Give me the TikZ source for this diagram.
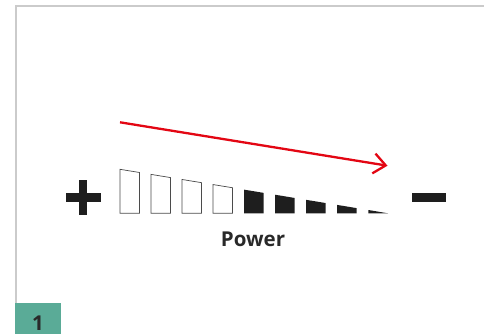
\documentclass[tikz,border=0pt]{standalone}
\usepackage{fontspec}
\setmainfont{Open Sans}
\usetikzlibrary{arrows.meta}
\definecolor{framegray}{HTML}{CBCBCB}
\definecolor{tealbox}{HTML}{5AAB97}
\definecolor{arrowred}{HTML}{E30613}
\definecolor{ink}{HTML}{1E1E1E}
\tikzset{
  emptybar/.style={draw=ink!80, line width=0.7pt, fill=white},
  fullbar/.style={fill=ink, draw=none},
  sign/.style={fill=ink, draw=none},
  label/.style={font=\fontsize{20.5}{24}\selectfont\bfseries, text=ink!95, inner sep=0pt},
}
\begin{document}
\begin{tikzpicture}[x=1pt,y=-1pt]
\useasboundingbox (0,0) rectangle (484,334);
% frame
\draw[framegray, line width=2pt] (16,334) -- (16,6) -- (484,6);
% number box
\node[fill=tealbox, minimum width=46pt, minimum height=31pt, anchor=north west, inner sep=0pt, outer sep=0pt] (num) at (15,303.3) {};
\node[label, anchor=base] (one) at (38,330) {1};
% plus sign
\fill[ink] (79,180) rectangle (87,214.5);
\fill[ink] (66,193) rectangle (100.5,201.5);
% minus sign
\fill[ink] (411.5,193) rectangle (446,201.5);
% bars: tops lie on a line from (120,169.3) with slope 0.164, bottom at 213.3
\foreach \i in {0,...,3}{
  \pgfmathsetmacro{\xl}{120+31*\i}
  \pgfmathsetmacro{\xr}{\xl+19.5}
  \pgfmathsetmacro{\yl}{169.3+0.164*(\xl-120)}
  \pgfmathsetmacro{\yr}{169.3+0.164*(\xr-120)}
  \draw[emptybar] (\xl,213.3) -- (\xl,\yl) -- (\xr,\yr) -- (\xr,213.3) -- cycle;
}
\foreach \i in {4,...,7}{
  \pgfmathsetmacro{\xl}{120+31*\i}
  \pgfmathsetmacro{\xr}{\xl+19.5}
  \pgfmathsetmacro{\yl}{169.3+0.164*(\xl-120)}
  \pgfmathsetmacro{\yr}{169.3+0.164*(\xr-120)}
  \fill[fullbar] (\xl,213.3) -- (\xl,\yl) -- (\xr,\yr) -- (\xr,213.3) -- cycle;
}
\fill[fullbar] (368.3,213.3) -- (368.3,210) -- (388,213.3) -- cycle;
% label
\node[label, anchor=base] (power) at (253,246) {Power};
% red arrow
\coordinate (astart) at (120,122.3);
\coordinate (aend) at (387.5,165.7);
\draw[arrowred, line width=2.3pt, -{Straight Barb[length=12pt,width=20pt,line width=2.3pt]}] (astart) -- (aend);
\end{tikzpicture}
\end{document}
